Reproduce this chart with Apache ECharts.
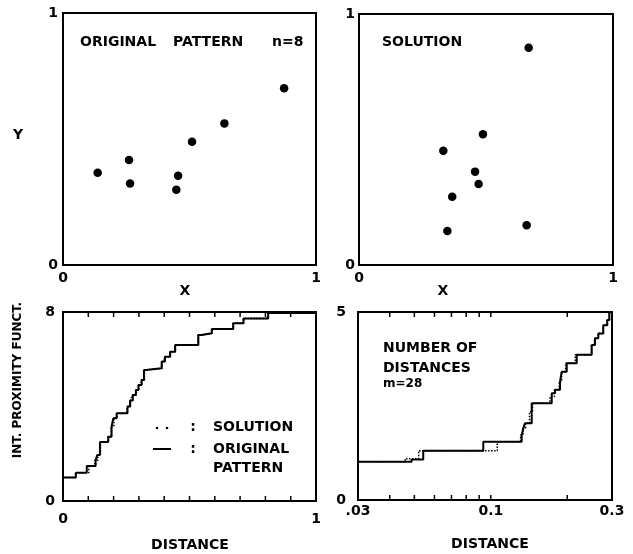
<!DOCTYPE html>
<html>
<head>
<meta charset="utf-8">
<script src="https://cdn.jsdelivr.net/npm/echarts@6/dist/echarts.min.js"></script>
<style>html,body{margin:0;padding:0;background:#fff}#c{width:633px;height:554px}</style>
</head>
<body>
<div id="c"></div>
<script>
// ---- Data ----
// Top-left: original pattern (n=8)
const origX = [0.137, 0.261, 0.265, 0.455, 0.448, 0.510, 0.638, 0.874];
const origY = [0.366, 0.417, 0.323, 0.354, 0.299, 0.489, 0.562, 0.701];
// Top-right: solution
const solX = [0.668, 0.488, 0.332, 0.457, 0.471, 0.367, 0.348, 0.660];
const solY = [0.866, 0.521, 0.455, 0.372, 0.323, 0.272, 0.135, 0.158];

// Bottom-left: integrated proximity function vs distance
const ipfOrigX = [0, 0.051, 0.094, 0.129, 0.136, 0.146, 0.179, 0.192, 0.199, 0.212, 0.255, 0.265, 0.276, 0.288, 0.298, 0.311, 0.320, 0.328, 0.390, 0.403, 0.423, 0.443, 0.535, 0.548, 0.588, 0.673, 0.713, 0.811, 1.0];
const ipfOrigY = [1.0, 1.2, 1.48, 1.73, 1.95, 2.5, 2.72, 3.15, 3.5, 3.71, 4.0, 4.25, 4.49, 4.7, 4.91, 5.12, 5.55, 5.62, 5.9, 6.11, 6.32, 6.6, 7.03, 7.1, 7.28, 7.52, 7.73, 7.96, 8.0];
const ipfSolX = [0, 0.049, 0.102, 0.126, 0.138, 0.148, 0.177, 0.190, 0.201, 0.214, 0.253, 0.267, 0.274, 0.290, 0.300, 0.309, 0.322, 0.330, 0.392, 0.401, 0.425, 0.445, 0.533, 0.550, 0.590, 0.671, 0.715, 0.809, 1.0];
const ipfSolY = [1.0, 1.2, 1.48, 1.73, 1.95, 2.5, 2.72, 3.15, 3.5, 3.71, 4.0, 4.25, 4.49, 4.7, 4.91, 5.12, 5.55, 5.62, 5.9, 6.11, 6.32, 6.6, 7.03, 7.1, 7.28, 7.52, 7.73, 7.96, 8.0];

// Bottom-right: number of distances (log distance axis)
const ndOrigX = [0.03, 0.0488, 0.0542, 0.0934, 0.1323, 0.1343, 0.1363, 0.1449, 0.1737, 0.179, 0.1873, 0.1902, 0.199, 0.2179, 0.2496, 0.2572, 0.265, 0.2772, 0.2874, 0.2928, 0.3];
const ndOrigY = [1.02, 1.08, 1.31, 1.55, 1.73, 1.91, 2.04, 2.57, 2.84, 2.93, 3.15, 3.41, 3.64, 3.86, 4.12, 4.3, 4.43, 4.65, 4.79, 5.0, 5.0];
const ndSolX = [0.03, 0.046, 0.052, 0.106, 0.131, 0.134, 0.137, 0.142, 0.146, 0.171, 0.178, 0.186, 0.190, 0.197, 0.215, 0.249, 0.256, 0.265, 0.277, 0.287, 0.293, 0.3];
const ndSolY = [1.02, 1.1, 1.31, 1.55, 1.73, 1.91, 2.04, 2.35, 2.57, 2.75, 2.93, 3.15, 3.41, 3.64, 3.86, 4.12, 4.3, 4.43, 4.65, 4.79, 5.0, 5.0];

// Tick values and labels
const linTicks = [0.1, 0.2, 0.3, 0.4, 0.5, 0.6, 0.7, 0.8, 0.9];
const logTicks = [0.04, 0.05, 0.06, 0.07, 0.08, 0.09, 0.1, 0.2];
const logTickLabels = [[0.03, '.03'], [0.1, '0.1'], [0.3, '0.3']];

// ---- Chart ----
const FONT = 'DejaVu Sans';
const lbl = (margin) => ({margin, fontFamily: FONT, fontWeight: 'bold', fontSize: 14, color: '#000'});
const noLine = {show: false};
const pairs = (xs, ys) => xs.map((x, i) => [x, ys[i]]);

function tickSeries(xi, yi, vals, yMin, yMax) {
  return {
    type: 'custom', xAxisIndex: xi, yAxisIndex: yi, silent: true, clip: false,
    data: vals.map(v => [v]),
    renderItem: function (params, api) {
      const v = api.value(0);
      const p0 = api.coord([v, yMin]);
      const p1 = api.coord([v, yMax]);
      return {type: 'group', children: [
        {type: 'line', shape: {x1: p0[0], y1: p0[1], x2: p0[0], y2: p0[1] - 5}, style: {stroke: '#000', lineWidth: 1.5}},
        {type: 'line', shape: {x1: p1[0], y1: p1[1], x2: p1[0], y2: p1[1] + 5}, style: {stroke: '#000', lineWidth: 1.5}}
      ]};
    }
  };
}

const txt = (x, y, text, size, align, extra) => Object.assign({
  type: 'text', x, y,
  style: {text, font: 'bold ' + (size || 14) + 'px "' + FONT + '"', fill: '#000', align: align || 'left', verticalAlign: 'middle'}
}, extra || {});

const chart = echarts.init(document.getElementById('c'), null, {renderer: 'canvas'});
const option = {
  animation: false,
  backgroundColor: '#fff',
  grid: [
    {left: 63, top: 13, width: 253, height: 252, show: true, borderColor: '#000', borderWidth: 2},
    {left: 359, top: 14, width: 254, height: 251, show: true, borderColor: '#000', borderWidth: 2},
    {left: 63, top: 312, width: 253, height: 189, show: true, borderColor: '#000', borderWidth: 2},
    {left: 358, top: 312, width: 254, height: 188, show: true, borderColor: '#000', borderWidth: 2}
  ],
  xAxis: [
    {gridIndex: 0, type: 'value', min: 0, max: 1, interval: 1, axisLine: noLine, axisTick: noLine, splitLine: noLine, axisLabel: lbl(6)},
    {gridIndex: 1, type: 'value', min: 0, max: 1, interval: 1, axisLine: noLine, axisTick: noLine, splitLine: noLine, axisLabel: lbl(6)},
    {gridIndex: 2, type: 'value', min: 0, max: 1, interval: 1, axisLine: noLine, axisTick: noLine, splitLine: noLine, axisLabel: lbl(11)},
    {gridIndex: 3, type: 'log', logBase: 10, min: 0.03, max: 0.3, axisLine: noLine, axisTick: noLine, splitLine: noLine,
     axisLabel: Object.assign(lbl(4), {showMinLabel: true, showMaxLabel: true, formatter: function (v) {
       let best = logTickLabels[0];
       logTickLabels.forEach(t => { if (Math.abs(Math.log(t[0]) - Math.log(v)) < Math.abs(Math.log(best[0]) - Math.log(v))) best = t; });
       return best[1];
     }})}
  ],
  yAxis: [
    {gridIndex: 0, type: 'value', min: 0, max: 1, interval: 1, axisLine: noLine, axisTick: noLine, splitLine: noLine, axisLabel: lbl(5)},
    {gridIndex: 1, type: 'value', min: 0, max: 1, interval: 1, axisLine: noLine, axisTick: noLine, splitLine: noLine, axisLabel: lbl(4)},
    {gridIndex: 2, type: 'value', min: 0, max: 8, interval: 8, axisLine: noLine, axisTick: noLine, splitLine: noLine, axisLabel: lbl(8)},
    {gridIndex: 3, type: 'value', min: 0, max: 5, interval: 5, axisLine: noLine, axisTick: noLine, splitLine: noLine, axisLabel: lbl(12)}
  ],
  series: [
    {type: 'scatter', xAxisIndex: 0, yAxisIndex: 0, data: pairs(origX, origY), symbol: 'circle', symbolSize: 8.5, itemStyle: {color: '#000', opacity: 1}},
    {type: 'scatter', xAxisIndex: 1, yAxisIndex: 1, data: pairs(solX, solY), symbol: 'circle', symbolSize: 8.5, itemStyle: {color: '#000', opacity: 1}},
    {type: 'line', xAxisIndex: 2, yAxisIndex: 2, step: 'end', data: pairs(ipfSolX, ipfSolY), showSymbol: false, lineStyle: {color: '#000', width: 1.5, type: 'dotted'}},
    {type: 'line', xAxisIndex: 2, yAxisIndex: 2, step: 'end', data: pairs(ipfOrigX, ipfOrigY), showSymbol: false, lineStyle: {color: '#000', width: 2}},
    {type: 'line', xAxisIndex: 3, yAxisIndex: 3, step: 'end', data: pairs(ndSolX, ndSolY), showSymbol: false, lineStyle: {color: '#000', width: 1.5, type: 'dotted'}},
    {type: 'line', xAxisIndex: 3, yAxisIndex: 3, step: 'end', data: pairs(ndOrigX, ndOrigY), showSymbol: false, lineStyle: {color: '#000', width: 2}},
    tickSeries(2, 2, linTicks, 0, 8),
    tickSeries(3, 3, logTicks, 0, 5)
  ],
  graphic: [
    txt(80, 42, 'ORIGINAL'),
    txt(173, 42, 'PATTERN'),
    txt(272, 42, 'n=8'),
    txt(382, 42, 'SOLUTION'),
    txt(18, 135, 'Y', 14, 'center'),
    txt(185, 291, 'X', 14, 'center'),
    txt(443, 291, 'X', 14, 'center'),
    txt(18, 380, 'INT. PROXIMITY FUNCT.', 12, 'center', {rotation: Math.PI / 2}),
    txt(190, 545, 'DISTANCE', 14, 'center'),
    txt(490, 544, 'DISTANCE', 14, 'center'),
    txt(383, 348, 'NUMBER OF'),
    txt(383, 368, 'DISTANCES'),
    txt(383, 384, 'm=28', 12),
    {type: 'circle', shape: {cx: 157, cy: 428, r: 1.3}, style: {fill: '#000'}},
    {type: 'circle', shape: {cx: 167, cy: 428, r: 1.3}, style: {fill: '#000'}},
    {type: 'line', shape: {x1: 153, y1: 449, x2: 171, y2: 449}, style: {stroke: '#000', lineWidth: 2}},
    txt(193, 427, ':', 14, 'center'),
    txt(193, 449, ':', 14, 'center'),
    txt(213, 427, 'SOLUTION'),
    txt(213, 449, 'ORIGINAL'),
    txt(213, 468, 'PATTERN')
  ]
};
chart.setOption(option);
</script>
</body>
</html>
